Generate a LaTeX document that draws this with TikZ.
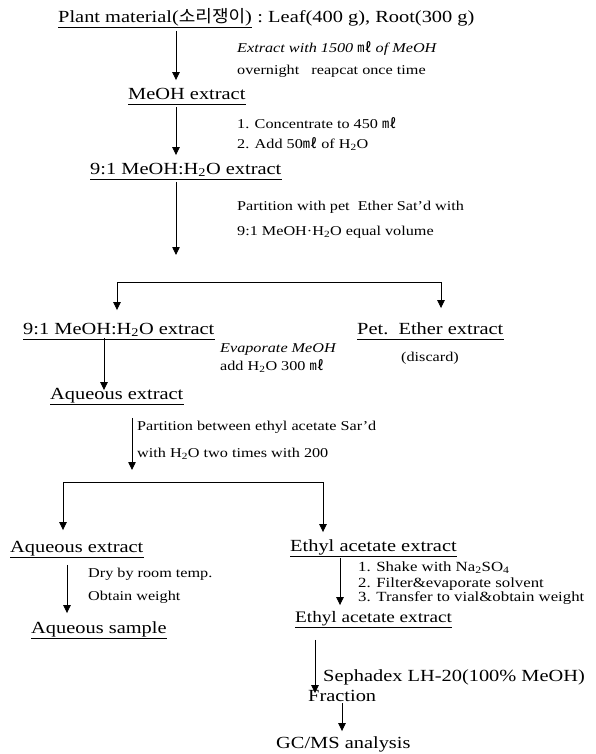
\documentclass[tikz,border=0pt]{standalone}
\usepackage{fontspec}
\setmainfont[FakeStretch=1.2]{Liberation Serif}
\newfontfamily\krfont[FakeStretch=1.06]{Noto Sans CJK KR}
\usetikzlibrary{arrows.meta}
\newcommand{\mlu}{{\krfont ㎖}}
\newcommand{\wat}{H\textsubscript{2}O}
\begin{document}
\begin{tikzpicture}[x=1pt,y=-1pt,
  every node/.style={inner sep=0pt, anchor=west},
  big/.style={font=\fontsize{17}{19}\selectfont, text height=12pt, text depth=3.5pt},
  mid/.style={font=\fontsize{16}{18}\selectfont, text height=12pt, text depth=3.5pt},
  note/.style={font=\fontsize{13.5}{15}\selectfont, text height=10pt, text depth=3pt},
  listtxt/.style={font=\fontsize{14}{15}\selectfont, text height=9.5pt, text depth=3pt},
  ul/.style={append after command={([yshift=-1.5pt]\tikzlastnode.south west) edge[draw=black,line width=0.8pt] ([yshift=-1.5pt]\tikzlastnode.south east)}},
  arr/.style={draw=black, line width=0.8pt, -{Triangle[length=8pt,width=7.5pt]}},
  bar/.style={draw=black, line width=1pt}]
\useasboundingbox (0,0) rectangle (595,754);
\fill[white] (0,0) rectangle (595,754);

% nodes
\node[big,ul] (plant) at (58,18) {Plant material({\krfont 소리쟁이})};
\node[big,anchor=base west] (leaf) at (plant.base east) {\ :\ Leaf(400 g), Root(300 g)};
\node[note] (n1) at (237,49) {\itshape Extract with 1500 \mlu{} of MeOH};
\node[note] (n2) at (237,71) {overnight\hspace{0.9em}reapcat once time};
\node[big,ul] (meoh) at (128,95) {MeOH extract};
\node[note] (n3) at (237,125) {1. Concentrate to 450 \mlu};
\node[note] (n4) at (237,145) {2. Add 50\mlu{} of \wat};
\node[big,ul] (e91) at (90,170) {9:1 MeOH:\wat{} extract};
\node[note] (n5) at (237,207) {Partition with pet\ \ Ether Sat'd with};
\node[note] (n6) at (237,232) {9:1 MeOH·\wat{} equal volume};

\node[big,ul] (e91b) at (23,330) {9:1 MeOH:\wat{} extract};
\node[big,ul] (pet) at (357,330) {Pet.\ \ Ether extract};
\node[note,anchor=center] (disc) at (430,358) {(discard)};
\node[note] (n7) at (220,349) {\itshape Evaporate MeOH};
\node[note] (n8) at (220,367) {add \wat{} 300 \mlu};
\node[big,ul] (aq1) at (50,395) {Aqueous extract};
\node[note] (n9) at (137,427) {Partition between ethyl acetate Sar'd};
\node[note] (n10) at (137,454) {with \wat{} two times with 200};

\node[big,ul] (aq2) at (10,548) {Aqueous extract};
\node[big,ul] (ea1) at (290,547) {Ethyl acetate extract};
\node[note] (n11) at (88,574) {Dry by room temp.};
\node[note] (n12) at (88,597) {Obtain weight};
\node[big,ul] (aqs) at (31,629) {Aqueous sample};
\node[listtxt] (l1) at (358,568) {1. Shake with Na\textsubscript{2}SO\textsubscript{4}};
\node[listtxt] (l2) at (358,584) {2. Filter\&evaporate solvent};
\node[listtxt] (l3) at (358,598) {3. Transfer to vial\&obtain weight};
\node[mid,ul] (ea2) at (295,618) {Ethyl acetate extract};
\node[big] (seph) at (323,677) {Sephadex LH-20(100\% MeOH)};
\node[big] (frac) at (308,697) {Fraction};
\node[big] (gc) at (276,744) {GC/MS analysis};

% junction coordinates
\coordinate (a1) at (176,0);
\coordinate (j1) at (176,255);
\coordinate (bl) at (117,282);
\coordinate (br) at (441,282);
\coordinate (a2) at (104,0);
\coordinate (j2) at (132,470);
\coordinate (cl) at (63,482);
\coordinate (cr) at (323,482);
\coordinate (a3) at (67,0);
\coordinate (a4) at (340,0);
\coordinate (a5) at (315,0);
\coordinate (a6) at (342,0);

% connectors
\draw[arr, shorten <=5pt, shorten >=7pt] (plant.south -| a1) -- (meoh.north -| a1);
\draw[arr, shorten <=4pt, shorten >=7pt] (meoh.south -| a1) -- (e91.north -| a1);
\draw[arr, shorten <=4pt] (e91.south -| a1) -- (j1);
\draw[bar] (bl) -- (br);
\draw[arr, shorten >=12pt] (bl) -- (bl |- e91b.north);
\draw[arr, shorten >=14pt] (br) -- (br |- pet.north);
\draw[arr, shorten >=-3pt] (e91b.south -| a2) -- (aq1.north -| a2);
\draw[arr, shorten <=15pt] (aq1.south -| j2) -- (j2);
\draw[bar] (cl) -- (cr);
\draw[arr, shorten >=10pt] (cl) -- (cl |- aq2.north);
\draw[arr, shorten >=7pt] (cr) -- (cr |- ea1.north);
\draw[arr, shorten <=9pt, shorten >=8pt] (aq2.south -| a3) -- (aqs.north -| a3);
\draw[arr, shorten <=3pt, shorten >=5pt] (ea1.south -| a4) -- (ea2.north -| a4);
\draw[arr, shorten <=14pt, shorten >=-4pt] (ea2.south -| a5) -- (frac.north -| a5);
\draw[arr, shorten <=-2pt, shorten >=5pt] (frac.south -| a6) -- (gc.north -| a6);
\end{tikzpicture}
\end{document}
